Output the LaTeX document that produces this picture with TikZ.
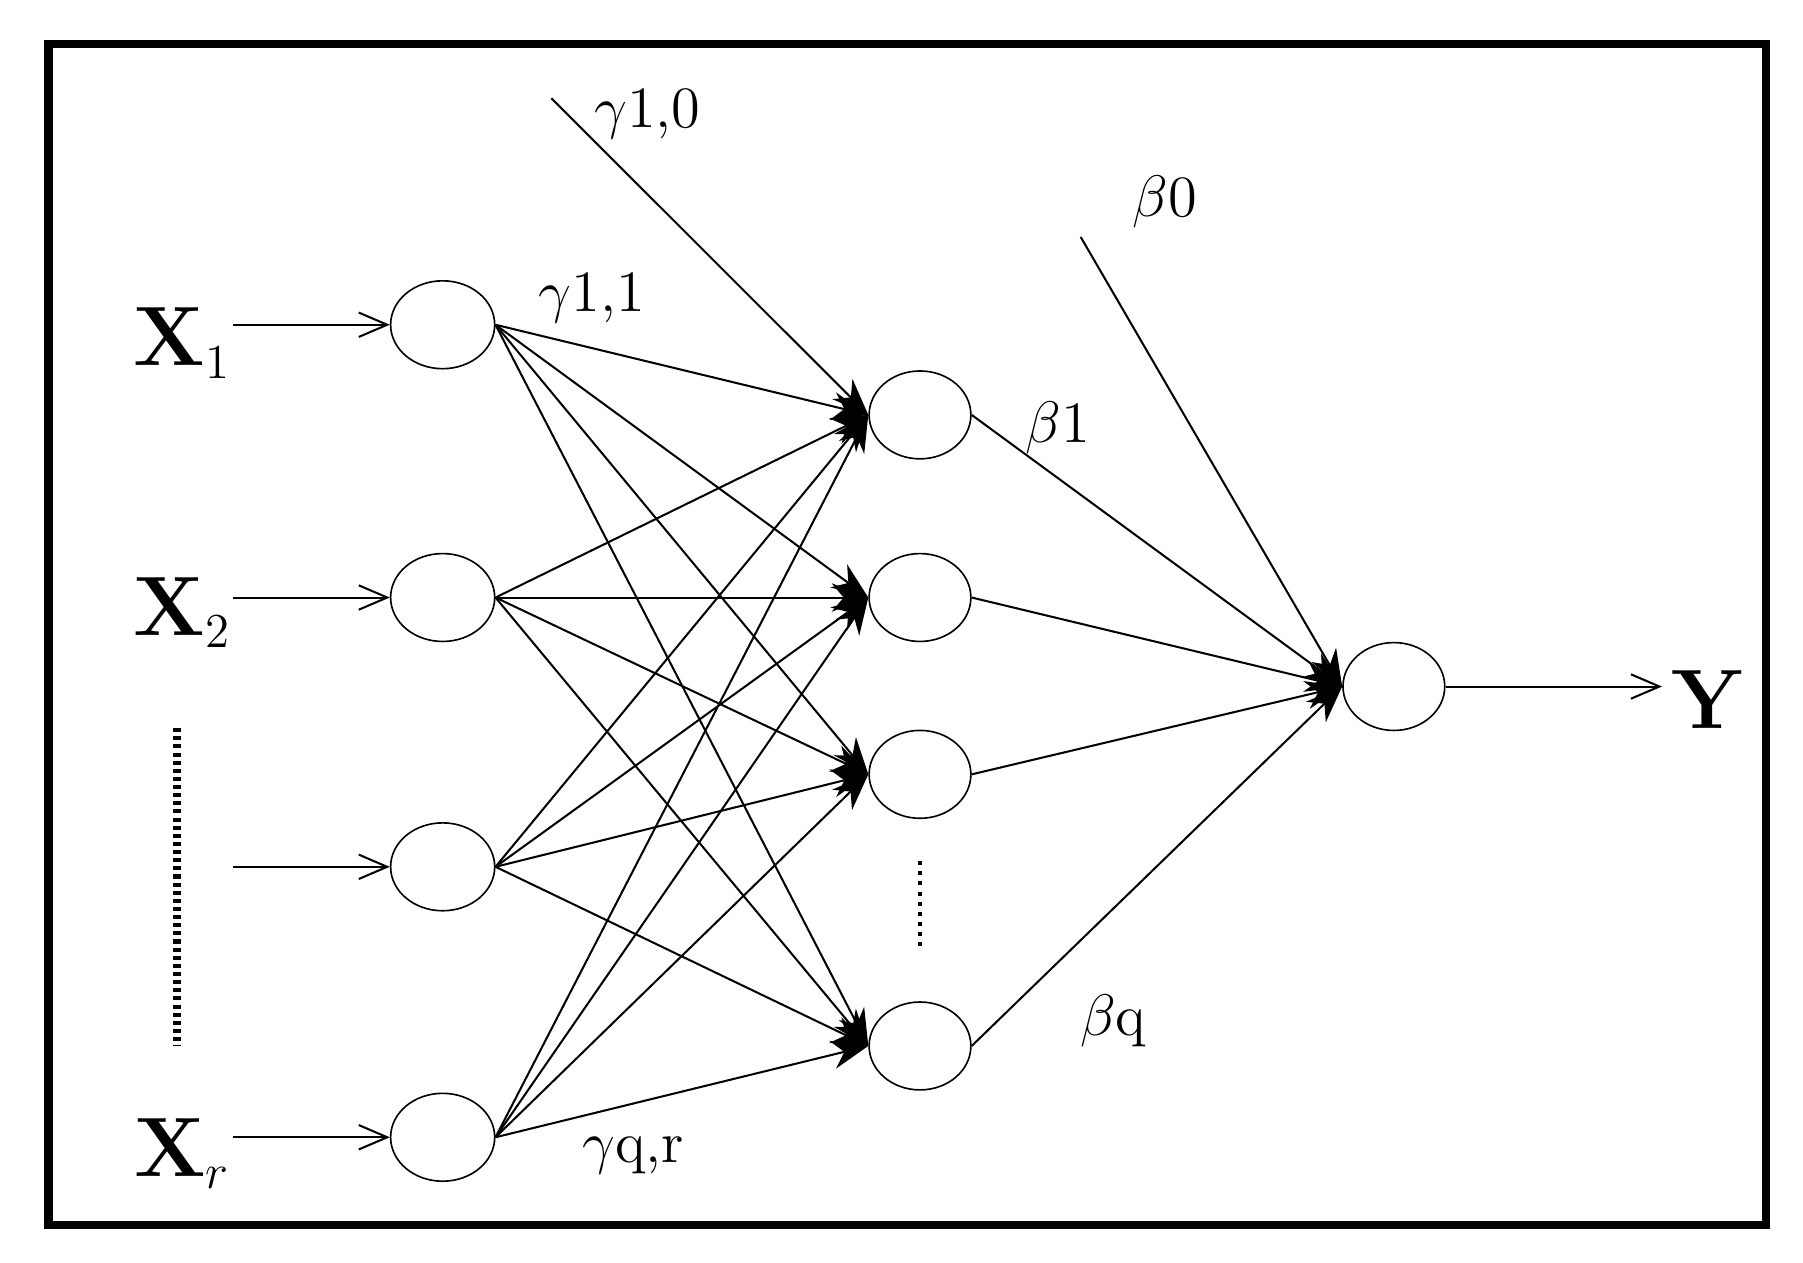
\documentclass[tikz,border=0pt]{standalone}
\usetikzlibrary{arrows.meta,shapes.geometric}
\begin{document}
\begin{tikzpicture}[x=0.01cm,y=-0.01cm,
  w/.style={line width=0.5pt},
  big/.style={w,-{Stealth[length=9pt,width=7pt]}},
  lbl/.style={font=\Large}]
\useasboundingbox (0,0) rectangle (1560,1092);
\draw[line width=2pt] (42,38) rectangle (1528,1060);
\foreach \n/\y in {1/281,2/517,3/750,4/984}
  \node[draw,ellipse,minimum width=0.9cm,minimum height=0.76cm,inner sep=0pt] (i\n) at (383,\y) {};
\foreach \n/\y in {1/359,2/517,3/670,4/905}
  \node[draw,ellipse,minimum width=0.88cm,minimum height=0.76cm,inner sep=0pt] (h\n) at (796,\y) {};
\node[draw,ellipse,minimum width=0.88cm,minimum height=0.76cm,inner sep=0pt] (o) at (1206,594) {};
\foreach \n/\y in {1/281,2/517,3/750,4/984}{
  \coordinate (s\n) at (202,\y);
  \draw[w,-{Straight Barb[length=7pt,width=6pt]}] (s\n) -- (i\n.west);
}
\foreach \i in {1,...,4}
  \foreach \h in {1,...,4}
    \draw[big] (i\i.east) -- (h\h.west);
\foreach \h in {1,...,4}
  \draw[big] (h\h.east) -- (o.west);
\coordinate (g0) at (477,85);
\draw[big] (g0) -- (h1.west);
\coordinate (b0) at (935,205);
\draw[big] (b0) -- (o.west);
\coordinate (yend) at (1438,594);
\draw[w,-{Straight Barb[length=7pt,width=6pt]}] (o.east) -- (yend);
\node (X1) at (158,297) {\huge$\mathbf{X}_{\scriptscriptstyle 1}$};
\node (X2) at (158,530) {\huge$\mathbf{X}_{\scriptscriptstyle 2}$};
\node (Xr) at (158,998) {\huge$\mathbf{X}_{\scriptscriptstyle r}$};
\node (Y) at (1478,605) {\huge$\mathbf{Y}$};
\draw[line width=2pt,dash pattern=on 1pt off 1pt] (153,630) -- (153,905);
\draw[line width=1.2pt,dash pattern=on 1pt off 1.5pt] (796,745) -- (796,822);
\node[lbl] (lg0) at (560,98) {$\gamma$1,0};
\node[lbl] (lg1) at (512,258) {$\gamma$1,1};
\node[lbl] (lgq) at (548,1000) {$\gamma$q,r};
\node[lbl] (lb0) at (1008,175) {$\beta$0};
\node[lbl] (lb1) at (915,370) {$\beta$1};
\node[lbl] (lbq) at (963,883) {$\beta$q};
\end{tikzpicture}
\end{document}
